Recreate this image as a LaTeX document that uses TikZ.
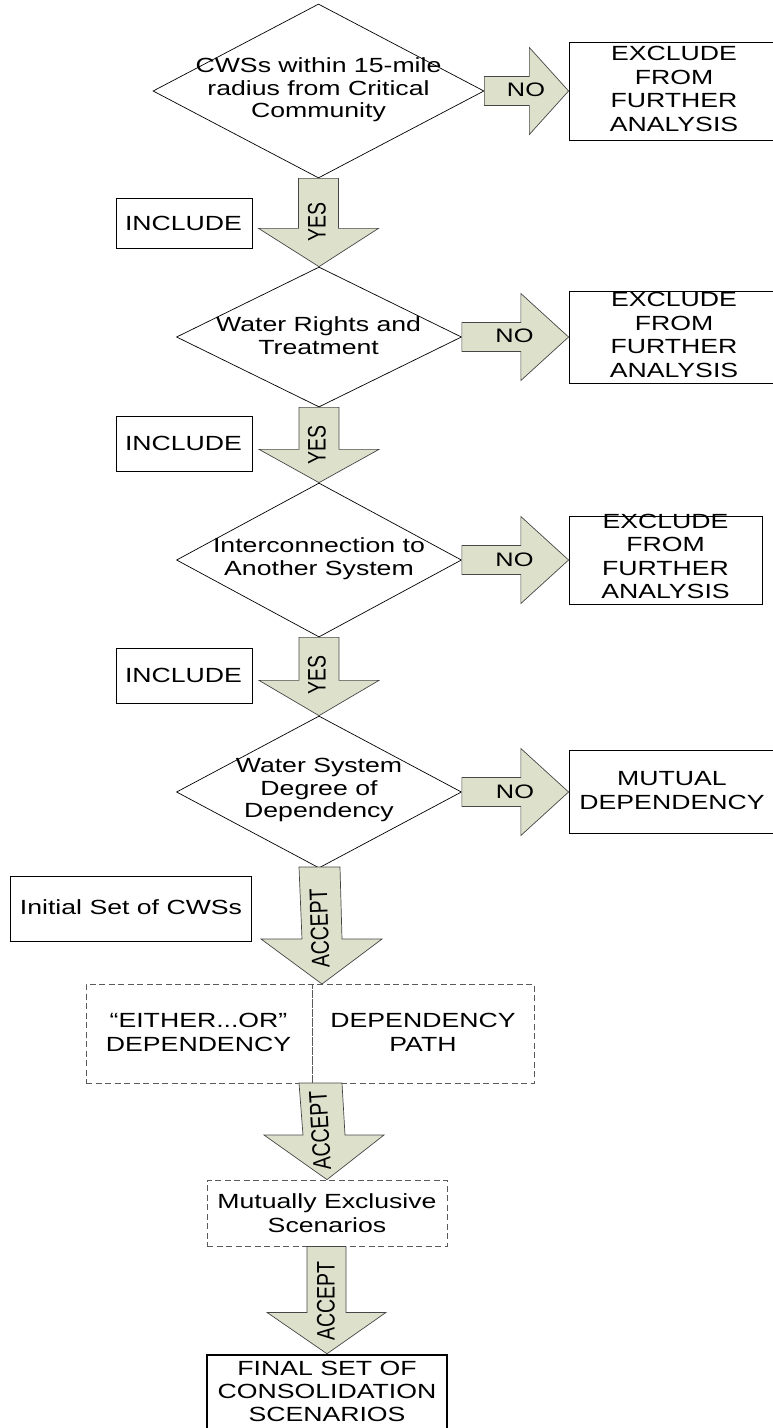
\documentclass[tikz,border=0pt]{standalone}
\usepackage{fontspec}
\usepackage{graphicx}
\setmainfont{Liberation Sans}
\newfontfamily\widefont[FakeStretch=1.3]{Liberation Sans}
\usetikzlibrary{shapes.geometric,calc}
\definecolor{arrowfill}{RGB}{221,225,204}
\definecolor{arrowline}{RGB}{70,70,70}
\definecolor{dashline}{RGB}{90,90,90}
\tikzset{
  txt/.style={font=\widefont\fontsize{20.5}{23.5}\selectfont, align=center, inner sep=0pt},
  dtxt/.style={font=\widefont\fontsize{20.5}{22.5}\selectfont, align=center, inner sep=0pt},
  notxt/.style={font=\widefont\fontsize{19.5}{20}\selectfont, inner sep=0pt},
  vlab/.style={font=\fontsize{19.5}{20}\selectfont, inner sep=0pt},
  dec/.style={diamond, draw=black, line width=0.7pt, inner sep=0pt},
  boxnode/.style={rectangle, draw=black, line width=0.8pt, inner sep=0pt},
  dashbox/.style={rectangle, draw=dashline, line width=0.8pt, dash pattern=on 6pt off 3.5pt, inner sep=0pt},
  blk/.style={fill=arrowfill, draw=arrowline, line width=0.7pt, line join=miter},
}
\newcommand\NoArrowBlk[3]{%
  \draw[blk] ($(#1.east)+(0,-14.5)$) -- ($(#1.east)+(#3,-14.5)$) -- ($(#1.east)+(#3,-43.5)$)
    -- (#2.west |- #1.east) -- ($(#1.east)+(#3,43.5)$) -- ($(#1.east)+(#3,14.5)$)
    -- ($(#1.east)+(0,14.5)$) -- cycle;}
\newcommand\DownArrowBlk[3]{%
  \draw[blk] ($(#1.south)+(-20,0)$) -- ($(#1.south)+(-20,#3)$) -- ($(#1.south)+(-60,#3)$)
    -- (#2.north) -- ($(#1.south)+(60,#3)$) -- ($(#1.south)+(20,#3)$)
    -- ($(#1.south)+(20,0)$) -- cycle;}
\begin{document}
\begin{tikzpicture}[x=1pt,y=-1pt]
\useasboundingbox (0,0) rectangle (772,1428);

% decisions
\node[dec, minimum width=331pt, minimum height=174pt] (d1) at (318.5,91) {};
\node[dec, minimum width=285pt, minimum height=140pt] (d2) at (319,337) {};
\node[dec, minimum width=285pt, minimum height=154pt] (d3) at (319,560) {};
\node[dec, minimum width=285pt, minimum height=152pt] (d4) at (319,792) {};
\node[dtxt] (t1) at (318.5,90) {CWSs within 15-mile\\radius from Critical\\Community};
\node[dtxt] (t2) at (318.6,335.5) {Water Rights and\\Treatment};
\node[dtxt] (t3) at (319,558.5) {Interconnection to\\Another System};
\node[dtxt] (t4) at (319,790) {Water System\\Degree of\\Dependency};

% right boxes
\node[boxnode, minimum width=210pt, minimum height=98pt] (e1) at (674,91) {};
\node[boxnode, minimum width=210pt, minimum height=92pt] (e2) at (674,337) {};
\node[boxnode, minimum width=193pt, minimum height=88pt] (e3) at (665.5,560) {};
\node[boxnode, minimum width=210pt, minimum height=83pt] (mut) at (674,791.5) {};
\node[txt] (te1) at (674,89) {EXCLUDE\\FROM\\FURTHER\\ANALYSIS};
\node[txt] (te2) at (674,335) {EXCLUDE\\FROM\\FURTHER\\ANALYSIS};
\node[txt] (te3) at (665.5,556.5) {EXCLUDE\\FROM\\FURTHER\\ANALYSIS};
\node[txt] (tmut) at (672,790.5) {MUTUAL\\DEPENDENCY};

% left boxes
\node[boxnode, minimum width=136pt, minimum height=50pt] (i1) at (184,223) {};
\node[boxnode, minimum width=136pt, minimum height=55pt] (i2) at (184,443.5) {};
\node[boxnode, minimum width=136pt, minimum height=55pt] (i3) at (184,675.5) {};
\node[txt] (ti1) at (183.5,223) {INCLUDE};
\node[txt] (ti2) at (183.5,443.5) {INCLUDE};
\node[txt] (ti3) at (183.5,675.5) {INCLUDE};
\node[boxnode, minimum width=241pt, minimum height=65pt] (init) at (130.5,908.5) {};
\node[txt] (tinit) at (131,907.5) {Initial Set of CWSs};

% dashed boxes
\node[dashbox, minimum width=226pt, minimum height=99pt] (eo) at (199,1033.5) {};
\node[dashbox, minimum width=222pt, minimum height=99pt] (dp) at (423,1033.5) {};
\node[txt] (teo) at (198.5,1032.5) {“EITHER...OR”\\DEPENDENCY};
\node[txt] (tdp) at (423,1032.5) {DEPENDENCY\\PATH};
\node[dashbox, minimum width=240pt, minimum height=66pt] (mx) at (327,1213) {};
\node[txt] (tmx) at (327,1213) {Mutually Exclusive\\Scenarios};

% final box
\node[rectangle, draw=black, line width=2.5pt, minimum width=240pt, minimum height=90pt, inner sep=0pt] (fin) at (327,1400) {};
\node[font=\widefont\fontsize{20.5}{23}\selectfont, align=center, inner sep=0pt] (tfin) at (327,1391) {FINAL SET OF\\CONSOLIDATION\\SCENARIOS};

% NO arrows
\NoArrowBlk{d1}{e1}{45}
\NoArrowBlk{d2}{e2}{59}
\NoArrowBlk{d3}{e3}{59}
\NoArrowBlk{d4}{mut}{59}
\node[notxt] (no1) at (526,90) {NO};
\node[notxt] (no2) at (514.5,336) {NO};
\node[notxt] (no3) at (514.5,560) {NO};
\node[notxt] (no4) at (515,792) {NO};

% YES arrows
\DownArrowBlk{d1}{d2}{50}
\DownArrowBlk{d2}{d3}{42}
\DownArrowBlk{d3}{d4}{43}
\node[vlab, rotate=90] (y1) at (317,222) {\scalebox{1}[1.3]{YES}};
\node[vlab, rotate=90] (y2) at (317,445) {\scalebox{1}[1.3]{YES}};
\node[vlab, rotate=90] (y3) at (317,675) {\scalebox{1}[1.3]{YES}};

% ACCEPT arrows
\coordinate (a1tip) at (322,984);
\draw[blk] (299,867) -- (340,867) -- (342,939) -- (382,939) -- (a1tip)
  -- (261,939) -- (302,939) -- cycle;
\draw[blk] (299,1083) -- (342,1083) -- (345,1135) -- (384,1135) -- (mx.north)
  -- (264,1135) -- (303,1135) -- cycle;
\draw[blk] ($(mx.south)+(-20,0)$) -- ($(mx.south)+(19,0)$) -- ($(mx.south)+(19,66)$)
  -- ($(mx.south)+(59,66)$) -- (fin.north) -- ($(mx.south)+(-60,66)$)
  -- ($(mx.south)+(-20,66)$) -- cycle;
\node[vlab, rotate=92] (ac1) at (319.5,928) {\scalebox{1}[1.3]{ACCEPT}};
\node[vlab, rotate=93.5] (ac2) at (320,1131) {\scalebox{1}[1.3]{ACCEPT}};
\node[vlab, rotate=90] (ac3) at (326,1301) {\scalebox{1}[1.3]{ACCEPT}};
\end{tikzpicture}
\end{document}
